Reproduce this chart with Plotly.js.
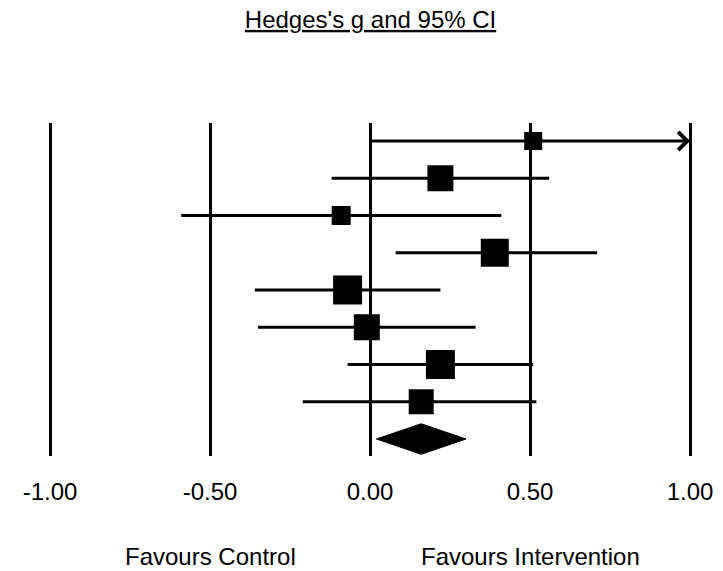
<!DOCTYPE html>
<html>
<head>
<meta charset="utf-8">
<script src="https://cdn.plot.ly/plotly-3.0.1.min.js"></script>
<style>html,body{margin:0;padding:0;background:#fff;}#chart{width:723px;height:571px;}</style>
</head>
<body>
<div id="chart"></div>
<script>
// ---- data ----
const studyRows   = [1, 2, 3, 4, 5, 6, 7, 8];
const effectSize  = [0.51, 0.22, -0.09, 0.39, -0.07, -0.01, 0.22, 0.16];
const ciLower     = [0.00, -0.12, -0.59, 0.08, -0.36, -0.35, -0.07, -0.21];
const ciUpper     = [1.00, 0.56, 0.41, 0.71, 0.22, 0.33, 0.51, 0.52];  // row 1 truncated at 1.00 (arrow)
const weightSize  = [18, 26, 19, 28, 29, 26, 29, 25];
const truncatedRight = [true, false, false, false, false, false, false, false];
const pooledRow   = 9;
const pooledEst   = 0.16;
const pooledLower = 0.02;
const pooledUpper = 0.30;
const tickValues  = [-1.0, -0.5, 0.0, 0.5, 1.0];
const tickLabels  = ["-1.00", "-0.50", "0.00", "0.50", "1.00"];
const sideLabels  = ["Favours Control", "Favours Intervention"];
const sideLabelX  = [-0.5, 0.5];
const titleText   = "Hedges's g and 95% CI";

const FONT = "Arial, 'Liberation Sans', sans-serif";
const diamondHalf = 0.41;

const studies = {
  type: 'scatter', mode: 'markers',
  x: effectSize, y: studyRows,
  marker: {symbol: 'square', size: weightSize, color: '#000', opacity: 1, line: {width: 0}},
  error_x: {
    type: 'data', symmetric: false,
    array: effectSize.map((v, i) => ciUpper[i] - v),
    arrayminus: effectSize.map((v, i) => v - ciLower[i]),
    color: '#000', thickness: 3, width: 0
  },
  hoverinfo: 'skip', showlegend: false
};

const diamond = {
  type: 'scatter', mode: 'lines',
  x: [pooledLower, pooledEst, pooledUpper, pooledEst, pooledLower],
  y: [pooledRow, pooledRow - diamondHalf, pooledRow, pooledRow + diamondHalf, pooledRow],
  fill: 'toself', fillcolor: '#000', line: {color: '#000', width: 1},
  hoverinfo: 'skip', showlegend: false
};

const annotations = [];
sideLabels.forEach((t, i) => annotations.push({
  text: t, xref: 'x', x: sideLabelX[i], yref: 'paper', y: -0.303,
  xanchor: 'center', yanchor: 'middle', showarrow: false,
  font: {family: FONT, size: 24, color: '#000'}
}));
truncatedRight.forEach((tr, i) => {
  if (!tr) return;
  annotations.push({
    text: '', xref: 'x', yref: 'y', x: ciUpper[i], y: studyRows[i],
    axref: 'x', ayref: 'y', ax: ciUpper[i] - 0.1, ay: studyRows[i],
    showarrow: true, arrowhead: 4, arrowsize: 3.5, arrowwidth: 1, arrowcolor: '#000',
    standoff: 0
  });
});

const layout = {
  width: 723, height: 571,
  margin: {l: 18, r: 1, t: 123, b: 115},
  paper_bgcolor: '#fff', plot_bgcolor: '#fff',
  title: {
    text: '<span style="text-decoration:underline;text-decoration-color:#808080;text-decoration-thickness:2px">' + titleText + '</span>',
    x: 0.5125, xanchor: 'center', y: 1 - 19.5 / 571, yanchor: 'middle',
    font: {family: FONT, size: 24, color: '#000'}
  },
  xaxis: {
    range: [-1.1, 1.1], tickvals: tickValues, ticktext: tickLabels,
    showgrid: true, gridcolor: '#000', gridwidth: 3, zeroline: false,
    showline: false, ticks: '', ticklabelstandoff: 19,
    tickfont: {family: FONT, size: 24, color: '#000'}, fixedrange: true
  },
  yaxis: {
    range: [9.456, 0.517], showgrid: false, zeroline: false, showline: false,
    showticklabels: false, ticks: '', fixedrange: true
  },
  annotations: annotations,
  showlegend: false
};

Plotly.newPlot('chart', [studies, diamond], layout, {staticPlot: true, displayModeBar: false});
</script>
</body>
</html>
